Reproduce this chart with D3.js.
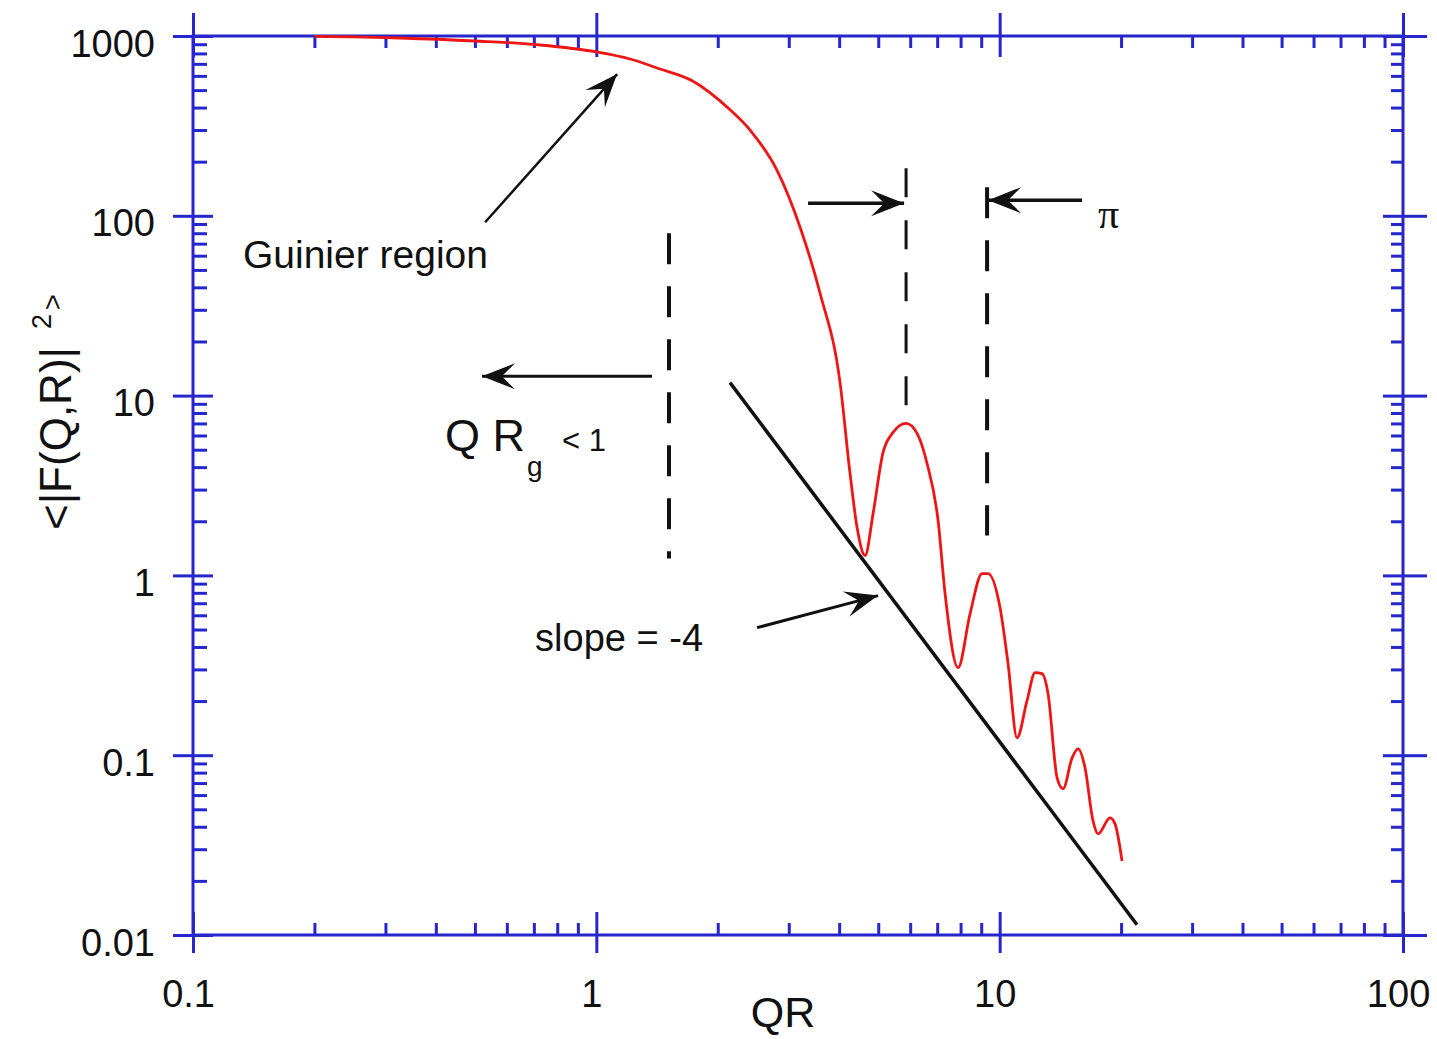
<!DOCTYPE html>
<html>
<head>
<meta charset="utf-8">
<script src="https://cdn.jsdelivr.net/npm/d3@7"></script>
<style>
  body { margin: 0; background: #fff; }
  svg text { font-family: Arial, "Liberation Sans", sans-serif; fill: #111; }
</style>
</head>
<body>
<script>
// chart size, plot box sits inside these margins
const width = 1437;
const height = 1039;
const margin = {left: 193, top: 36, right: 34, bottom: 104};
const blue = '#2626cc';

// tick values / labels
const xMajor = [0.1, 1, 10, 100];
const xLabels = ['0.1', '1', '10', '100'];
const yMajor = [0.01, 0.1, 1, 10, 100, 1000];
const yLabels = ['0.01', '0.1', '1', '10', '100', '1000'];

// red curve
const qr = [0.2, 0.326, 0.50, 0.725, 1.0, 1.212, 1.439, 1.737, 2.11, 2.405, 2.806, 3.20, 3.587, 4.02,
  4.256, 4.43, 4.638, 4.855, 5.139, 5.441, 5.861, 6.241, 6.607, 7.036, 7.322, 7.888, 8.447, 9.045,
  9.36, 10.02, 10.49, 11.04, 11.69, 12.24, 12.74, 13.18, 13.88, 14.36, 15.12, 15.65, 16.28, 17.04,
  17.54, 18.78, 19.32, 20.11];
const intensity = [995, 975, 938, 891, 815, 745, 655, 560, 402, 300, 179, 86.4, 37.1, 11.8,
  3.69, 1.85, 1.29, 2.21, 4.83, 6.24, 7.0, 6.16, 4.19, 2.02, 0.792, 0.307, 0.613, 1.023,
  1.023, 0.662, 0.323, 0.125, 0.201, 0.288, 0.284, 0.220, 0.0748, 0.065, 0.0967, 0.1085, 0.0851, 0.0431,
  0.0365, 0.0448, 0.0415, 0.0258];

// the straight "slope = -4" line
const slopeQ = [2.145, 21.9];
const slopeI = [11.8, 0.0114];

// dashed markers (QR, top, bottom)
const dashQ = [1.514, 5.861, 9.307];
const dashTop = [80, 184, 144];
const dashBottom = [1.24, 8.27, 1.666];

// arrows: start -> tip, in data units
const arrowFromQ = [0.530, 1.374, 2.503, 3.349, 16.0];
const arrowFromI = [92.1, 12.8, 0.512, 117.6, 122.2];
const arrowToQ = [1.126, 0.5207, 4.995, 5.794, 9.36];
const arrowToI = [614, 12.8, 0.772, 117.6, 122.2];

var svg = d3.select('body')
    .append('svg')
    .attr('width', width)
    .attr('height', height)
    .style('background', '#fff');

const x = d3.scaleLog().domain([0.1, 100]).range([margin.left, width - margin.right]);
const y = d3.scaleLog().domain([0.01, 1000]).range([height - margin.bottom, margin.top]);

const xMinor = x.ticks().filter(v => !xMajor.includes(v));
const yMinor = y.ticks().filter(v => !yMajor.includes(v));

function tickGroup(gen, translate, values, size, labels) {
    var g = svg.append('g')
        .attr('transform', translate)
        .call(gen.tickValues(values).tickSize(size).tickSizeOuter(0)
            .tickFormat(labels ? (d, i) => labels[i] : () => ''));
    g.select('.domain').remove();
    g.selectAll('line').attr('stroke', blue).attr('stroke-width', 3);
    g.selectAll('text').style('font-size', '38px').attr('fill', '#111');
    if (!labels) g.selectAll('text').remove();
    return g;
}

const atBottom = 'translate(0,' + y.range()[0] + ')';
const atTop = 'translate(0,' + y.range()[1] + ')';
const atLeft = 'translate(' + x.range()[0] + ',0)';
const atRight = 'translate(' + x.range()[1] + ',0)';

// bottom axis
tickGroup(d3.axisBottom(x).tickPadding(27), atBottom, xMajor, 18, xLabels)
    .selectAll('text').attr('dx', '-0.13em');
tickGroup(d3.axisBottom(x), atBottom, xMajor, -23);
tickGroup(d3.axisBottom(x), atBottom, xMinor, -12);
// top axis
tickGroup(d3.axisTop(x), atTop, xMajor, 23);
tickGroup(d3.axisTop(x), atTop, xMajor, -21);
tickGroup(d3.axisTop(x), atTop, xMinor, -12);
// left axis
tickGroup(d3.axisLeft(y).tickPadding(18), atLeft, yMajor, 20, yLabels)
    .selectAll('text').attr('dy', '0.53em');
tickGroup(d3.axisLeft(y), atLeft, yMajor, -20);
tickGroup(d3.axisLeft(y), atLeft, yMinor, -14);
// right axis
tickGroup(d3.axisRight(y), atRight, yMajor, 24);
tickGroup(d3.axisRight(y), atRight, yMajor, -20);
tickGroup(d3.axisRight(y), atRight, yMinor, -12);

// frame
svg.append('rect')
    .attr('x', x.range()[0])
    .attr('y', y.range()[1])
    .attr('width', x.range()[1] - x.range()[0])
    .attr('height', y.range()[0] - y.range()[1])
    .attr('fill', 'none')
    .attr('stroke', blue)
    .attr('stroke-width', 3);

// axis titles
svg.append('text')
    .attr('x', 783)
    .attr('y', 1027)
    .attr('text-anchor', 'middle')
    .style('font-size', '43px')
    .text('QR');

var yTitle = svg.append('text')
    .attr('transform', 'translate(71,530) rotate(-90)')
    .style('font-size', '44px');
yTitle.append('tspan').text('<|F(Q,R)|');
yTitle.append('tspan').attr('dx', 18).attr('dy', -20).style('font-size', '27px').text('2');
yTitle.append('tspan').attr('dx', 4).attr('dy', 11).style('font-size', '27px').text('>');

// slope line
svg.append('line')
    .attr('x1', x(slopeQ[0])).attr('y1', y(slopeI[0]))
    .attr('x2', x(slopeQ[1])).attr('y2', y(slopeI[1]))
    .attr('stroke', '#111')
    .attr('stroke-width', 3.5);

// dashed markers
const dashWidth = [4, 3, 4];
svg.selectAll('.dash')
    .data(dashQ)
    .join('line')
    .attr('class', 'dash')
    .attr('x1', d => x(d)).attr('x2', d => x(d))
    .attr('y1', (d, i) => y(dashTop[i]))
    .attr('y2', (d, i) => y(dashBottom[i]))
    .attr('stroke', '#111')
    .attr('stroke-width', (d, i) => dashWidth[i])
    .attr('stroke-dasharray', (d, i) => i == 1 ? '29,23' : '31,22');

// red curve
const points = qr.map((q, i) => [q, intensity[i]]);
svg.append('path')
    .datum(points)
    .attr('fill', 'none')
    .attr('stroke', '#ee1515')
    .attr('stroke-width', 2.8)
    .attr('stroke-linejoin', 'round')
    .attr('d', d3.line().x(d => x(d[0])).y(d => y(d[1])).curve(d3.curveMonotoneX));

// arrows
function arrowHead(x1, y1, x2, y2, L, W) {
    const a = Math.atan2(y2 - y1, x2 - x1);
    const pts = [[0, 0], [-L, -W], [-0.6 * L, 0], [-L, W]].map(([u, v]) =>
        [x2 + u * Math.cos(a) - v * Math.sin(a), y2 + u * Math.sin(a) + v * Math.cos(a)]);
    return 'M' + pts.join('L') + 'Z';
}
const arrowWidth = [2.5, 3, 3, 3.5, 3.5];
arrowFromQ.forEach((q, i) => {
    const x1 = x(q), y1 = y(arrowFromI[i]), x2 = x(arrowToQ[i]), y2 = y(arrowToI[i]);
    svg.append('line')
        .attr('x1', x1).attr('y1', y1).attr('x2', x2).attr('y2', y2)
        .attr('stroke', '#111')
        .attr('stroke-width', arrowWidth[i]);
    svg.append('path')
        .attr('d', arrowHead(x1, y1, x2, y2, 33, 13))
        .attr('fill', '#111');
});

// annotations
svg.append('text')
    .attr('x', x(0.133)).attr('y', y(51.1))
    .style('font-size', '39px')
    .text('Guinier region');

svg.append('text')
    .attr('x', x(0.4215)).attr('y', y(4.95))
    .style('font-size', '45px')
    .text('Q R');
svg.append('text')
    .attr('x', x(0.673)).attr('y', y(3.55))
    .style('font-size', '28px')
    .text('g');
svg.append('text')
    .attr('x', x(0.822)).attr('y', y(4.95))
    .style('font-size', '31px')
    .text('< 1');

svg.append('text')
    .attr('x', x(0.705)).attr('y', y(0.381))
    .style('font-size', '38px')
    .text('slope = -4');

svg.append('text')
    .attr('x', x(17.54)).attr('y', y(85.3))
    .style('font-size', '42px')
    .style('font-family', '"Liberation Serif", "DejaVu Serif", serif')
    .text('π');
</script>
</body>
</html>
